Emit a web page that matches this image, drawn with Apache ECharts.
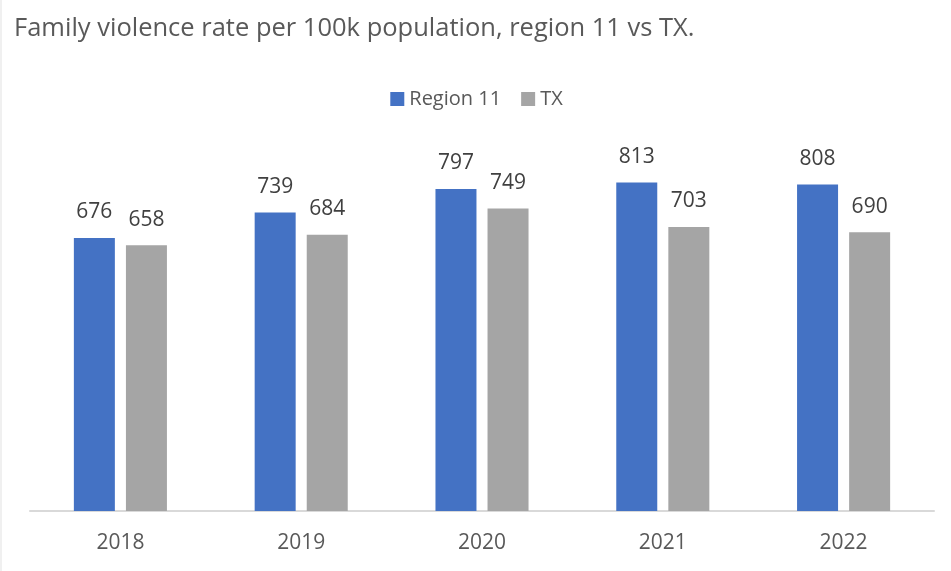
<!DOCTYPE html>
<html>
<head>
<meta charset="utf-8">
<script src="https://cdn.jsdelivr.net/npm/echarts@6/dist/echarts.min.js"></script>
<style>
  html, body { margin: 0; padding: 0; background: #fff; }
  #chart { width: 949px; height: 571px; border-left: 2px solid #f0f0f0; }
</style>
</head>
<body>
<div id="chart"></div>
<script>
var years = ['2018', '2019', '2020', '2021', '2022'];
var region11 = [676, 739, 797, 813, 808];
var tx = [658, 684, 749, 703, 690];

var font = 'Open Sans';
var myChart = echarts.init(document.getElementById('chart'));
myChart.setOption({
    animation: false,
    title: {
        text: 'Family violence rate per 100k population, region 11 vs TX.',
        left: 7,
        top: 11,
        textStyle: { fontFamily: font, fontSize: 25.5, fontWeight: 'normal', color: '#595959' }
    },
    legend: {
        top: 84,
        left: 'center',
        itemWidth: 14,
        itemHeight: 14,
        itemGap: 20,
        icon: 'rect',
        textStyle: { fontFamily: font, fontSize: 20, color: '#595959' },
        data: ['Region 11', 'TX']
    },
    grid: { left: 28, right: 17, top: 107, bottom: 60 },
    xAxis: {
        type: 'category',
        data: years,
        axisLine: { lineStyle: { color: '#d9d9d9', width: 2 } },
        axisTick: { show: false },
        axisLabel: { fontFamily: font, fontSize: 21, color: '#595959', margin: 22 }
    },
    yAxis: {
        type: 'value',
        min: 0,
        max: 1000,
        show: false,
        splitLine: { show: false }
    },
    series: [{
        name: 'Region 11',
        type: 'bar',
        data: region11,
        barWidth: 41,
        barGap: '27%',
        itemStyle: { color: '#4472c4' },
        label: { show: true, position: 'top', distance: 15, fontFamily: font, fontSize: 21, color: '#404040' }
    }, {
        name: 'TX',
        type: 'bar',
        data: tx,
        barWidth: 41,
        itemStyle: { color: '#a5a5a5' },
        label: { show: true, position: 'top', distance: 15, fontFamily: font, fontSize: 21, color: '#404040' }
    }]
});
</script>
</body>
</html>
